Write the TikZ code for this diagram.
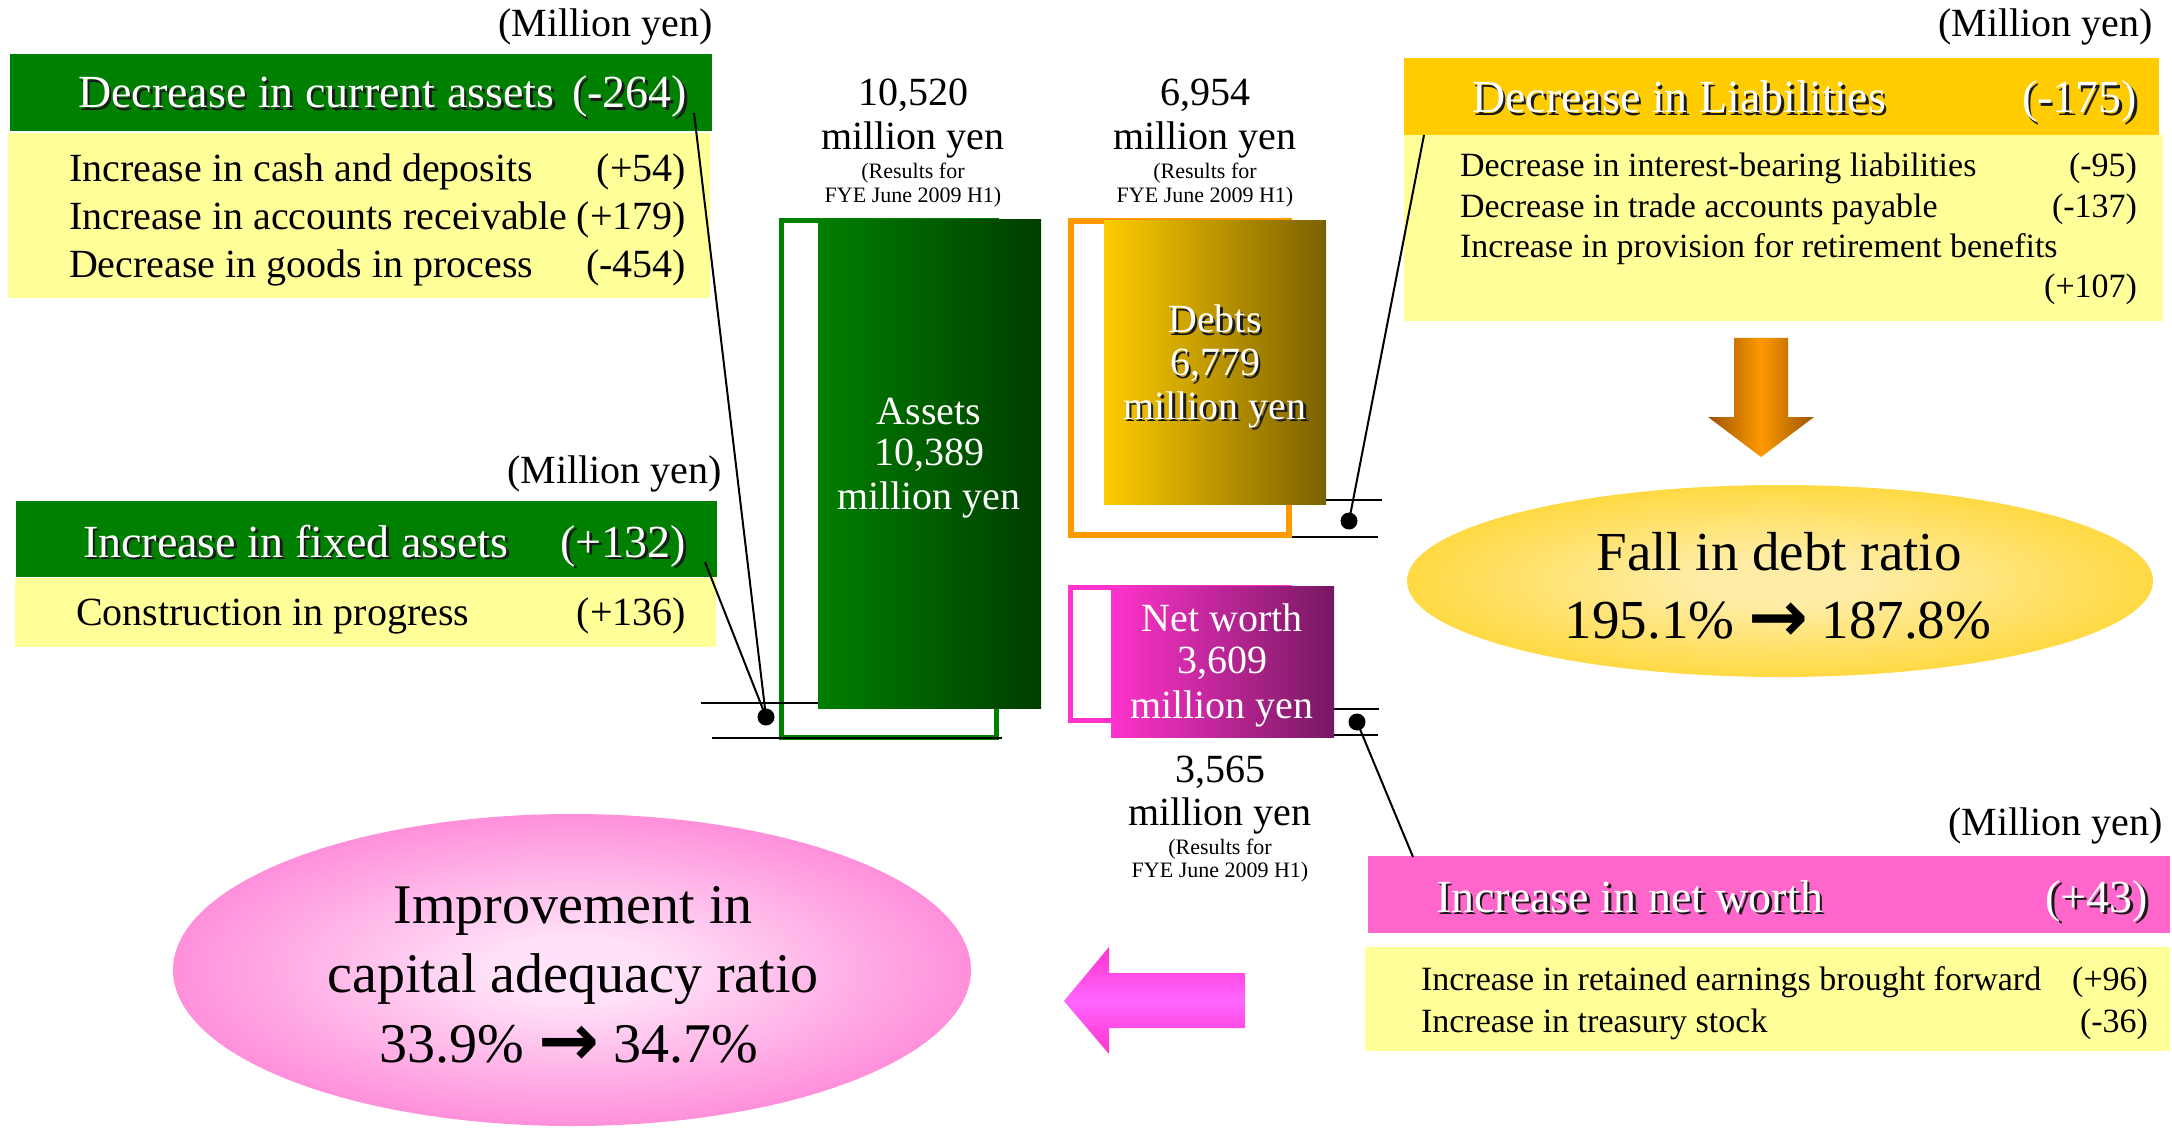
\documentclass[tikz,border=0pt]{standalone}
\usepackage{fontspec}
\setmainfont{Liberation Serif}
\newfontfamily\arrowfont{DejaVu Sans}
\usetikzlibrary{shadings}

% palette
\definecolor{hdgreen}{HTML}{008000}
\definecolor{paleyellow}{HTML}{FFFF99}
\definecolor{hdgold}{HTML}{FFCC00}
\definecolor{hdpink}{HTML}{FF66CC}
\definecolor{assetL}{HTML}{007F00}
\definecolor{assetR}{HTML}{003D00}
\definecolor{debtL}{HTML}{FFCC00}
\definecolor{debtR}{HTML}{7A6000}
\definecolor{netL}{HTML}{FF33CC}
\definecolor{netR}{HTML}{761860}
\definecolor{edgeorange}{HTML}{FF9900}
\definecolor{edgepink}{HTML}{FF33CC}
\definecolor{arrowdark}{HTML}{9A5400}
\definecolor{arrowmid}{HTML}{FF9900}
\definecolor{pinkarrowedge}{HTML}{FF33CC}
\definecolor{pinkarrowmid}{HTML}{FF66FF}
\definecolor{goldcore}{HTML}{FFEDA6}
\definecolor{pinkcore}{HTML}{FFE2F8}
\definecolor{shadowc}{HTML}{1A1A1A}

\pgfdeclareradialshading{goldglow}{\pgfpoint{0bp}{0bp}}{color(0bp)=(goldcore); color(6bp)=(goldcore); color(38bp)=(hdgold); color(50bp)=(hdgold)}
\pgfdeclareradialshading{pinkglow}{\pgfpoint{0bp}{0bp}}{color(0bp)=(pinkcore); color(5bp)=(pinkcore); color(35bp)=(hdpink); color(50bp)=(hdpink)}

% white text with a dark drop shadow
\newcommand\sh[1]{\leavevmode\rlap{\kern1.3pt\raisebox{-1.3pt}{\color{shadowc}#1}}#1}
\newcommand\fsz[2]{\fontsize{#1}{#2}\selectfont}
\newcommand\rarr{\raisebox{-0.06em}{\scalebox{1.3}{\arrowfont\bfseries →}}}

\begin{document}
\begin{tikzpicture}[x=0.5pt, y=-0.5pt,
  every node/.style={inner sep=0pt, outer sep=0pt},
  unitlbl/.style={font=\fsz{20}{24}, anchor=base east},
  hdr/.style={font=\fsz{23}{27}, text=white},
  bodyL/.style={font=\fsz{20}{24}},
  bodyS/.style={font=\fsz{17}{20}},
  valbig/.style={font=\fsz{20}{24}, anchor=base},
  valsmall/.style={font=\fsz{11}{13}, anchor=base},
  barlbl/.style={font=\fsz{20}{24}, anchor=base, text=white},
  leader/.style={black, line width=1pt},
  tick/.style={black, line width=1.1pt},
  joint/.style={circle, fill=black, minimum size=8.5pt},
  ratio/.style={font=\fsz{27.5}{32}, anchor=base},
  capratio/.style={font=\fsz{28}{33}, anchor=base}]

\useasboundingbox (0,0) rectangle (2172,1128);
\fill[white] (0,0) rectangle (2172,1128);

% ---------- current assets panel ----------
\node[unitlbl] (muA) at (713,37) {(Million yen)};
\fill[hdgreen] (10,54) rectangle (712,131);
\fill[paleyellow] (8,133) rectangle (710,298);
\node[hdr, anchor=base west] (caT) at (78,108) {\sh{Decrease in current assets}};
\node[hdr, anchor=base east] (caV) at (687,108) {\sh{(-264)}};
\node[bodyL, anchor=base west] (ca1) at (69,182) {Increase in cash and deposits};
\node[bodyL, anchor=base east] (ca1v) at (686,182) {(+54)};
\node[bodyL, anchor=base west] (ca2) at (69,230) {Increase in accounts receivable};
\node[bodyL, anchor=base east] (ca2v) at (686,230) {(+179)};
\node[bodyL, anchor=base west] (ca3) at (69,278) {Decrease in goods in process};
\node[bodyL, anchor=base east] (ca3v) at (686,278) {(-454)};
\coordinate (caTip) at (694,113);

% ---------- fixed assets panel ----------
\node[unitlbl] (muB) at (722,483) {(Million yen)};
\fill[hdgreen] (16,501) rectangle (717,577);
\fill[paleyellow] (15,578) rectangle (716,647);
\node[hdr, anchor=base west] (faT) at (83,557) {\sh{Increase in fixed assets}};
\node[hdr, anchor=base east] (faV) at (686,557) {\sh{(+132)}};
\node[bodyL, anchor=base west] (fa1) at (76,625) {Construction in progress};
\node[bodyL, anchor=base east] (fa1v) at (686,625) {(+136)};
\coordinate (faTip) at (705,562);

% ---------- assets bar ----------
\node[valbig] (asPrev1) at (913,106) {10,520};
\node[valbig] (asPrev2) at (913,150) {million yen};
\node[valsmall] (asPrev3) at (913,179) {(Results for};
\node[valsmall] (asPrev4) at (913,203) {FYE June 2009 H1)};
\draw[hdgreen, line width=2.5pt] (781.5,220.5) rectangle (996.5,737.5);
\coordinate (asUpL) at (701,703);
\coordinate (asUpR) at (818,703);
\coordinate (asLoL) at (712,738);
\coordinate (asLoR) at (1002,738);
\draw[tick] (asUpL) -- (asUpR);
\draw[tick] (asLoL) -- (asLoR);
\shade[left color=assetL, right color=assetR] (818,220) rectangle (1041,708);
\node[barlbl] (as1) at (929,424) {Assets};
\node[barlbl] (as2) at (929,465) {10,389};
\node[barlbl] (as3) at (929,509) {million yen};
\node[joint] (asDot) at (766,717) {};
\draw[leader] (caTip) -- (asDot.center);
\draw[leader] (faTip) -- (asDot.center);

% ---------- debts bar ----------
\node[valbig] (dbPrev1) at (1205,106) {6,954};
\node[valbig] (dbPrev2) at (1205,150) {million yen};
\node[valsmall] (dbPrev3) at (1205,179) {(Results for};
\node[valsmall] (dbPrev4) at (1205,203) {FYE June 2009 H1)};
\draw[edgeorange, line width=3pt] (1071,221) rectangle (1289,535);
\coordinate (dbUpL) at (1326,500);
\coordinate (dbUpR) at (1382,500);
\coordinate (dbLoL) at (1292,537);
\coordinate (dbLoR) at (1378,537);
\draw[tick] (dbUpL) -- (dbUpR);
\draw[tick] (dbLoL) -- (dbLoR);
\shade[left color=debtL, right color=debtR] (1104,221) rectangle (1326,504);
\node[barlbl] (db1) at (1215,333) {\sh{Debts}};
\node[barlbl] (db2) at (1215,376) {\sh{6,779}};
\node[barlbl] (db3) at (1215,419) {\sh{million yen}};
\node[joint] (dbDot) at (1349,521) {};

% ---------- net worth bar ----------
\draw[edgepink, line width=2.5pt] (1070.5,587.5) rectangle (1289.5,720.5);
\coordinate (nwUpL) at (1334,709);
\coordinate (nwUpR) at (1379,709);
\coordinate (nwLoL) at (1334,735);
\coordinate (nwLoR) at (1378,735);
\draw[tick] (nwUpL) -- (nwUpR);
\draw[tick] (nwLoL) -- (nwLoR);
\shade[left color=netL, right color=netR] (1111,586) rectangle (1334,737);
\node[barlbl] (nw1) at (1222,631) {Net worth};
\node[barlbl] (nw2) at (1222,673) {3,609};
\node[barlbl] (nw3) at (1222,718) {million yen};
\node[joint] (nwDot) at (1357,722) {};
\node[valbig] (nwPrev1) at (1220,782) {3,565};
\node[valbig] (nwPrev2) at (1220,825) {million yen};
\node[valsmall] (nwPrev3) at (1220,854) {(Results for};
\node[valsmall] (nwPrev4) at (1220,877) {FYE June 2009 H1)};

% ---------- liabilities panel ----------
\node[unitlbl] (muC) at (2153,37) {(Million yen)};
\fill[hdgold] (1404,58) rectangle (2159,135);
\fill[paleyellow] (1404,135) rectangle (2163,321);
\node[hdr, anchor=base west] (liT) at (1472,113) {\sh{Decrease in Liabilities}};
\node[hdr, anchor=base east] (liV) at (2137,113) {\sh{(-175)}};
\node[bodyS, anchor=base west] (li1) at (1460,177) {Decrease in interest-bearing liabilities};
\node[bodyS, anchor=base east] (li1v) at (2137,177) {(-95)};
\node[bodyS, anchor=base west] (li2) at (1460,218) {Decrease in trade accounts payable};
\node[bodyS, anchor=base east] (li2v) at (2137,218) {(-137)};
\node[bodyS, anchor=base west] (li3) at (1460,258) {Increase in provision for retirement benefits};
\node[bodyS, anchor=base east] (li3v) at (2137,298) {(+107)};
\coordinate (liTip) at (1424,135);
\draw[leader] (dbDot.center) -- (liTip);

% arrow down to the debt ratio
\shade[left color=arrowdark, right color=arrowdark, middle color=arrowmid]
  (1734,338) -- (1788,338) -- (1788,417) -- (1814,417) -- (1761,457)
  -- (1708,417) -- (1734,417) -- cycle;
\shade[shading=goldglow] (1780,581) ellipse [x radius=373, y radius=96];
\node[ratio] (dr1) at (1779,570) {Fall in debt ratio};
\node[ratio] (dr2) at (1778,638) {195.1\% \rarr{} 187.8\%};

% ---------- net worth panel ----------
\node[unitlbl] (muD) at (2163,835) {(Million yen)};
\fill[hdpink] (1368,856) rectangle (2170,933);
\fill[paleyellow] (1365,947) rectangle (2170,1051);
\node[hdr, anchor=base west] (nwT) at (1436,912) {\sh{Increase in net worth}};
\node[hdr, anchor=base east] (nwV) at (2148,912) {\sh{(+43)}};
\node[bodyS, anchor=base west] (nwl1) at (1421,990) {Increase in retained earnings brought forward};
\node[bodyS, anchor=base east] (nwl1v) at (2148,990) {(+96)};
\node[bodyS, anchor=base west] (nwl2) at (1421,1032) {Increase in treasury stock};
\node[bodyS, anchor=base east] (nwl2v) at (2148,1032) {(-36)};
\coordinate (nwTip) at (1413,857);
\draw[leader] (nwDot.center) -- (nwTip);

% arrow towards the capital adequacy ratio
\shade[top color=pinkarrowedge, bottom color=pinkarrowedge, middle color=pinkarrowmid]
  (1245,973) -- (1245,1028) -- (1109,1028) -- (1109,1054) -- (1064,1001)
  -- (1109,947) -- (1109,973) -- cycle;
\shade[shading=pinkglow] (572,970) ellipse [x radius=399, y radius=156];
\node[capratio] (cr1) at (573,923) {Improvement in};
\node[capratio] (cr2) at (573,992) {capital adequacy ratio};
\node[capratio] (cr3) at (569,1062) {33.9\% \rarr{} 34.7\%};

\end{tikzpicture}
\end{document}
